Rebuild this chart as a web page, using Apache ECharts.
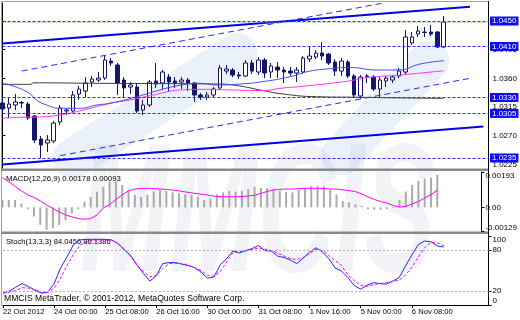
<!DOCTYPE html>
<html><head><meta charset="utf-8">
<script src="https://cdn.jsdelivr.net/npm/echarts@6/dist/echarts.min.js"></script>
<style>html,body{margin:0;padding:0;background:#fff}#c{width:520px;height:320px}</style>
</head><body><div id="c"></div>
<script>
// ---- categories (H4 bars) ----
const tradingDays = ['22 Oct','23 Oct','24 Oct','25 Oct','26 Oct','29 Oct','30 Oct','31 Oct','1 Nov','2 Nov','5 Nov','6 Nov','7 Nov'];
const barHours = ['00:00','04:00','08:00','12:00','16:00','20:00'];
const categories = [];
tradingDays.forEach(d => barHours.forEach(h => categories.push(d + ' ' + h)));
categories.splice(0, 4);            // first bar: 22 Oct 16:00
categories.length = 70;
for (let i = 0; i < 7; i++) categories.push('');   // right shift space
const tickLabels = ['22 Oct 2012','24 Oct 00:00','25 Oct 08:00','26 Oct 16:00','30 Oct 00:00','31 Oct 08:00','1 Nov 16:00','5 Nov 00:00','6 Nov 08:00'];

// ---- OHLC: [open, close, low, high] ----
const ohlc = [
[1.03213,1.03119,1.03056,1.03323],[1.03135,1.03197,1.02978,1.03307],[1.03182,1.03229,1.03103,1.03354],[1.03221,1.03213,1.03135,1.03245],
[1.03197,1.02978,1.02946,1.03229],[1.03009,1.02632,1.02585,1.03025],[1.02648,1.02554,1.02350,1.02695],[1.02585,1.02632,1.02444,1.02710],
[1.02617,1.02899,1.02585,1.02931],[1.02915,1.03135,1.02868,1.03182],[1.03088,1.03103,1.03025,1.03135],[1.03088,1.03339,1.03056,1.03401],
[1.03354,1.03433,1.03260,1.03480],[1.03401,1.03527,1.03307,1.03621],[1.03543,1.03590,1.03464,1.03637],[1.03574,1.03605,1.03543,1.03700],
[1.03605,1.03888,1.03574,1.03966],[1.03872,1.03841,1.03794,1.03919],[1.03810,1.03527,1.03339,1.03841],[1.03574,1.03449,1.03307,1.03621],
[1.03464,1.03496,1.03354,1.03543],[1.03464,1.03088,1.03056,1.03527],[1.03103,1.03182,1.03025,1.03260],[1.03182,1.03543,1.03150,1.03574],
[1.03558,1.03511,1.03449,1.03841],[1.03527,1.03700,1.03417,1.03731],[1.03621,1.03543,1.03386,1.03668],[1.03558,1.03527,1.03449,1.03621],
[1.03543,1.03574,1.03433,1.03621],[1.03574,1.03527,1.03401,1.03605],[1.03527,1.03339,1.03230,1.03543],[1.03339,1.03307,1.03260,1.03370],
[1.03307,1.03339,1.03260,1.03386],[1.03339,1.03433,1.03307,1.03464],[1.03449,1.03762,1.03417,1.03810],[1.03715,1.03747,1.03668,1.03810],
[1.03731,1.03653,1.03621,1.03762],[1.03653,1.03637,1.03590,1.03700],[1.03637,1.03841,1.03621,1.03888],[1.03841,1.03715,1.03668,1.03888],
[1.03700,1.03888,1.03653,1.03935],[1.03888,1.03684,1.03605,1.03919],[1.03700,1.03794,1.03605,1.03841],[1.03778,1.03731,1.03605,1.03857],
[1.03731,1.03700,1.03527,1.03778],[1.03715,1.03684,1.03637,1.03778],[1.03684,1.03731,1.03543,1.03778],[1.03700,1.03919,1.03668,1.03951],
[1.03904,1.03951,1.03857,1.04092],[1.03935,1.03998,1.03904,1.04045],[1.03998,1.03951,1.03888,1.04170],[1.03982,1.03841,1.03810,1.03998],
[1.03857,1.03715,1.03637,1.03904],[1.03715,1.03872,1.03637,1.03919],[1.03857,1.03637,1.03605,1.03888],[1.03637,1.03339,1.03292,1.03668],
[1.03323,1.03621,1.03276,1.03653],[1.03637,1.03630,1.03527,1.03668],[1.03621,1.03433,1.03401,1.03653],[1.03433,1.03574,1.03307,1.03621],
[1.03558,1.03605,1.03464,1.03637],[1.03574,1.03621,1.03527,1.03653],[1.03637,1.03715,1.03605,1.03762],[1.03700,1.04249,1.03668,1.04359],
[1.04155,1.04249,1.04123,1.04327],[1.04296,1.04343,1.04249,1.04422],[1.04327,1.04320,1.04249,1.04406],[1.04327,1.04296,1.04265,1.04437],
[1.04327,1.04092,1.04076,1.04343],[1.04092,1.04484,1.04084,1.04578]
];

// ---- moving averages: [bar index, price] ----
const maDark = [[0,1.03506],[4.3,1.03506],[4.9,1.03530],[15.2,1.03522],[33.7,1.03511],[37.1,1.03480],[40.3,1.03417],[43.9,1.03354],[49.1,1.03312],[55.9,1.03303],[62.2,1.03293],[69,1.03287]];
const maBlue = [[0,1.03522],[2,1.03469],[4.2,1.03365],[5.3,1.03260],[6.9,1.03182],[9,1.03130],[12.1,1.03130],[14.7,1.03182],[16.8,1.03208],[21,1.03312],[24.6,1.03417],[28,1.03496],[30.9,1.03522],[33.5,1.03496],[37.1,1.03511],[40.3,1.03543],[45,1.03626],[47.6,1.03704],[50.7,1.03747],[54.4,1.03770],[58.5,1.03731],[61.9,1.03731],[65.3,1.03825],[69,1.03877]];
const maPink = [[0,1.02973],[2.7,1.02989],[6.4,1.02998],[9,1.03025],[12.6,1.03103],[16.8,1.03208],[19.9,1.03260],[23.6,1.03339],[27.7,1.03417],[30.9,1.03428],[36.1,1.03417],[40.3,1.03409],[43.9,1.03449],[46.5,1.03472],[53.3,1.03547],[57.5,1.03616],[62.2,1.03653],[69,1.03720]];

// ---- trend / channel lines: [bar index, price] ----
const channelUpper = [[0,1.04147],[73.1,1.04724]];
const channelLower = [[0,1.02248],[75.2,1.02844]];
const dashUpper = [[3,1.03715],[59.3,1.04778]];
const dashLower = [[9,1.02386],[73.1,1.03601]];
const levelLines = [1.0450,1.0410,1.0330,1.0305,1.0235];
const lastBid = 1.04484;
const priceTicks = [1.0225,1.0270,1.0315,1.0360,1.0405,1.0450];

// ---- MACD(12,26,9) ----
const macdHist = [0.0004,0.0004,0.0004,0.0002,-0.0001,-0.0005,-0.00095,-0.00123,-0.00114,-0.00096,-0.0007,-0.00033,-0.0001,0.00031,0.00058,0.00085,0.00112,0.0014,0.0014,0.00122,0.00095,0.00068,0.00058,0.00068,0.00086,0.00095,0.0009,0.00082,0.00077,0.00071,0.00068,0.00058,0.0004,0.00049,0.00071,0.00082,0.0009,0.00086,0.0009,0.001,0.00113,0.00106,0.00104,0.001,0.0009,0.00084,0.00082,0.00095,0.00104,0.00116,0.00116,0.00116,0.00095,0.0007,0.00035,0.00027,0.00016,0.00008,-0.0001,-0.00013,-0.00013,-0.0001,-0.00004,0.0004,0.00086,0.00122,0.00145,0.00158,0.00162,0.00178];
const macdSignal = [0.00163,0.00139,0.00114,0.0009,0.00068,0.00054,0.00035,0.00013,-0.00006,-0.00025,-0.00041,-0.00052,-0.00061,-0.00065,-0.00061,-0.00041,-0.00003,0.00016,0.00043,0.00068,0.0009,0.001,0.00103,0.00104,0.00103,0.001,0.00098,0.00095,0.0009,0.00084,0.00079,0.00074,0.0007,0.00065,0.00059,0.00058,0.00058,0.00058,0.00059,0.00062,0.00066,0.00076,0.00087,0.00095,0.00098,0.001,0.001,0.00102,0.00104,0.00104,0.00104,0.00103,0.001,0.001,0.00096,0.00091,0.00086,0.00073,0.00057,0.00043,0.00032,0.00024,0.0001,0.00002,0.00005,0.00019,0.00032,0.00051,0.0007,0.00093];
const macdTicks = [-0.00129,0,0.00193];

// ---- Stochastic(13,3,3) ----
const stochK = [17.2,20.1,25.9,31,26.6,21.5,17.2,18.6,31,53.5,69.5,86.9,94.2,95.2,95.2,95.2,95.2,94.2,89.1,79.7,71.7,57.8,45.5,34.6,42.6,60,61.5,61.5,59.3,57.1,54.2,47.7,39,40.4,57.8,67.3,78.2,75.3,78.9,81.8,86.2,78.9,78.2,70.9,68.8,65.1,60,68,76.7,83,76.7,67.3,53.5,49.1,39.7,28.1,23,28.8,32.4,31,30.2,34.6,39.7,56.4,72.4,87.6,92.7,91.7,85.5,84.05];
const stochD = [17.2,18.6,20.8,25.1,24.4,22.2,17.9,17.9,24.4,39,57.1,73.1,86.2,91.3,93.5,94.2,94.2,94.2,89.1,81.1,70.2,57.1,48.4,41.1,42.6,52.8,60,60.3,60,57.8,54.2,49.9,43.3,41.9,48.4,62.2,76,77.5,78.2,80.4,82.6,81.1,78.9,75.3,70.9,67.3,65.8,68.8,74.6,81.1,78.9,71.7,64.4,57.1,43.3,35.3,28.1,27.3,29.5,31.2,32.4,33.9,36,43.3,54.9,69.5,83.3,90.8,89.8,86.14];
const stochTicks = [0,20,80,100];
const stochLevels = [80,20];

// ---- rendering ----
const FA = "'Liberation Sans',Arial,sans-serif";
const GL = 2.5, GW = 486;
const chart = echarts.init(document.getElementById('c'), null, {renderer: 'canvas'});

function catAxis(gi, show) {
  return {
    type: 'category', gridIndex: gi, data: categories, boundaryGap: false,
    axisLine: {show: show, lineStyle: {color: '#000', width: 1}},
    axisTick: {show: show, length: 3, interval: (i) => i % 8 === 0 && i <= 64, lineStyle: {color: '#000'}},
    axisLabel: {show: show, interval: (i) => i % 8 === 0 && i <= 64, align: 'left', margin: 3, hideOverlap: false,
      fontSize: 7.6, fontFamily: FA, color: '#000', formatter: (v, i) => tickLabels[i / 8]},
    splitLine: {show: false}
  };
}
const lbl = {fontSize: 8, fontFamily: FA, color: '#000'};
function yAx(gi, min, max, ticks, fmt, rich) {
  return {
    type: 'value', gridIndex: gi, position: 'right', min: min, max: max, scale: true,
    axisLine: {show: true, lineStyle: {color: '#000', width: 1}},
    axisTick: {show: true, length: 3, customValues: ticks, lineStyle: {color: '#000'}},
    axisLabel: Object.assign({customValues: ticks, margin: 4, formatter: fmt, rich: rich,
      showMinLabel: true, showMaxLabel: true, hideOverlap: false}, lbl),
    splitLine: {show: false}
  };
}

const lineBase = {type: 'line', symbol: 'none', silent: true, animation: false};

const option = {
  animation: false,
  backgroundColor: '#fff',
  textStyle: {fontFamily: FA},
  grid: [
    {left: GL, width: GW, top: 3, height: 165},
    {left: GL, width: GW, top: 172, height: 59},
    {left: GL, width: GW, top: 236, height: 69}
  ],
  xAxis: [
    catAxis(0, false),
    {type: 'value', gridIndex: 0, min: 0, max: categories.length - 1, show: false},
    catAxis(1, false),
    catAxis(2, true)
  ],
  yAxis: [
    yAx(0, 1.02193, 1.04783, priceTicks, v => v.toFixed(4)),
    yAx(1, -0.00129, 0.00193, macdTicks,
      v => v === 0 ? '0.00' : (v > 0 ? '{t|' + v.toFixed(5) + '}' : '{b|' + v.toFixed(5) + '}'),
      {t: Object.assign({padding: [7, 0, 0, 0]}, lbl), b: Object.assign({padding: [0, 0, 7, 0]}, lbl)}),
    yAx(2, 0, 100, stochTicks,
      v => v === 100 ? '{t|100}' : (v === 0 ? '{b|0}' : String(v)),
      {t: Object.assign({padding: [8, 0, 0, 0]}, lbl), b: Object.assign({padding: [0, 0, 8, 0]}, lbl)})
  ],
  graphic: [
    // watermark
    {type: 'rect', z: -10, silent: true, x: 155, y: 106, rotation: 0.57,
      shape: {x: -118, y: -20, width: 236, height: 40, r: 20}, style: {fill: 'rgba(205,222,244,0.42)'}},
    {type: 'rect', z: -10, silent: true, x: 385, y: 108, rotation: 0.82,
      shape: {x: -85, y: -20, width: 170, height: 40, r: 20}, style: {fill: 'rgba(205,222,244,0.42)'}},
    {type: 'text', z: -10, silent: true, x: 258, y: 312, scaleX: 0.52, scaleY: 0.9,
      style: {text: 'MMCIS', font: 'italic bold 205px ' + FA, fill: 'rgba(150,165,190,0.13)', textAlign: 'center', textVerticalAlign: 'bottom', verticalAlign: 'bottom'}},
    // frame & separators
    {type: 'line', silent: true, shape: {x1: 1.5, y1: 1, x2: 1.5, y2: 306}, style: {stroke: '#a0a0a0', lineWidth: 1}},
    {type: 'line', silent: true, shape: {x1: 1, y1: 1.5, x2: 489, y2: 1.5}, style: {stroke: '#a0a0a0', lineWidth: 1}},
    {type: 'rect', silent: true, shape: {x: 1, y: 168.5, width: 488, height: 2.5}, style: {fill: '#8a8a8a'}},
    {type: 'rect', silent: true, shape: {x: 1, y: 231.5, width: 488, height: 2.5}, style: {fill: '#8a8a8a'}},
    {type: 'line', silent: true, shape: {x1: 488.5, y1: 1, x2: 488.5, y2: 306}, style: {stroke: '#000', lineWidth: 1}},
    // titles
    {type: 'text', silent: true, x: 6, y: 179, style: {text: 'MACD(12,26,9) 0.00178 0.00093', font: '7.8px ' + FA, fill: '#000', textVerticalAlign: 'middle', verticalAlign: 'middle'}},
    {type: 'text', silent: true, x: 6, y: 242, style: {text: 'Stoch(13,3,3) 84.0456 86.1386', font: '7.6px ' + FA, fill: '#000', textVerticalAlign: 'middle', verticalAlign: 'middle'}},
    {type: 'text', silent: true, x: 4, y: 299, style: {text: 'MMCIS MetaTrader, © 2001-2012, MetaQuotes Software Corp.', font: '8.6px ' + FA, fill: '#000', textVerticalAlign: 'middle', verticalAlign: 'middle'}}
  ],
  series: [
    Object.assign({}, lineBase, {xAxisIndex: 1, yAxisIndex: 0, data: maDark, smooth: true, lineStyle: {color: '#3c3c3c', width: 1}}),
    Object.assign({}, lineBase, {xAxisIndex: 1, yAxisIndex: 0, data: maPink, smooth: true, lineStyle: {color: '#ff33ff', width: 1}}),
    Object.assign({}, lineBase, {xAxisIndex: 1, yAxisIndex: 0, data: maBlue, smooth: true, lineStyle: {color: '#4848ff', width: 1}}),
    Object.assign({}, lineBase, {xAxisIndex: 1, yAxisIndex: 0, data: dashUpper, lineStyle: {color: '#2a2af0', width: 1, type: [6, 4]}}),
    Object.assign({}, lineBase, {xAxisIndex: 1, yAxisIndex: 0, data: dashLower, lineStyle: {color: '#2a2af0', width: 1, type: [6, 4]}}),
    Object.assign({}, lineBase, {xAxisIndex: 1, yAxisIndex: 0, data: channelUpper, lineStyle: {color: '#0000f0', width: 2}}),
    Object.assign({}, lineBase, {xAxisIndex: 1, yAxisIndex: 0, data: channelLower, lineStyle: {color: '#0000f0', width: 2}}),
    {
      type: 'candlestick', xAxisIndex: 0, yAxisIndex: 0, data: ohlc, barWidth: 4, silent: true,
      itemStyle: {color: '#ffffff', color0: '#15156e', borderColor: '#15156e', borderColor0: '#15156e', borderColorDoji: '#15156e', borderWidth: 1},
      markLine: {
        silent: true, symbol: ['none', 'none'], animation: false, precision: 5,
        lineStyle: {color: '#2b2bff', type: [3, 2], width: 1},
        label: {show: true, position: 'end', distance: 1.5, formatter: p => Number(p.value).toFixed(4),
          color: '#fff', backgroundColor: '#0c0cf5', padding: [1, 2, 0, 2], fontSize: 8, fontFamily: FA},
        data: levelLines.map(v => ({yAxis: v})).concat([{yAxis: lastBid, lineStyle: {color: '#7aa37a', type: [1, 2]}, label: {show: false}}])
      }
    },
    {type: 'bar', xAxisIndex: 2, yAxisIndex: 1, data: macdHist, barWidth: 2, silent: true, itemStyle: {color: '#aaaaaa'}},
    Object.assign({}, lineBase, {xAxisIndex: 2, yAxisIndex: 1, data: macdSignal, lineStyle: {color: '#ff00ff', width: 1}}),
    Object.assign({}, lineBase, {xAxisIndex: 3, yAxisIndex: 2, data: stochK, lineStyle: {color: '#2424ff', width: 1}}),
    Object.assign({}, lineBase, {xAxisIndex: 3, yAxisIndex: 2, data: stochD, lineStyle: {color: '#ff00ff', width: 1, type: [3, 2]},
      markLine: {silent: true, symbol: ['none', 'none'], animation: false, label: {show: false},
        lineStyle: {color: '#b4b4b4', type: [2, 2], width: 1}, data: stochLevels.map(v => ({yAxis: v}))}})
  ]
};
chart.setOption(option);
</script>
</body></html>
